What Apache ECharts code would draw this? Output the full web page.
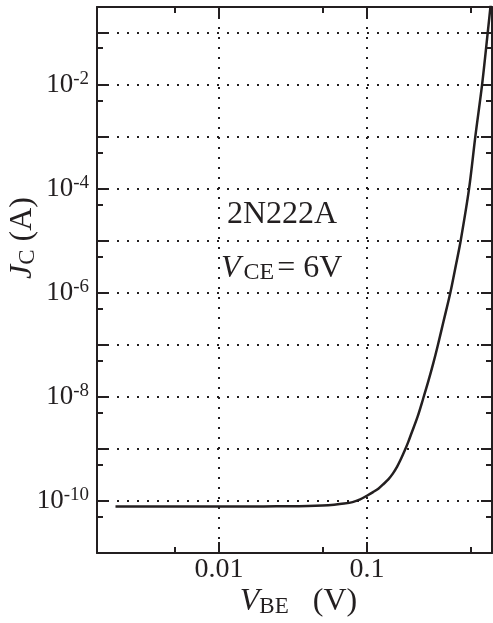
<!DOCTYPE html>
<html>
<head>
<meta charset="utf-8">
<script src="https://cdn.jsdelivr.net/npm/echarts@6/dist/echarts.min.js"></script>
<style>html,body{margin:0;padding:0;background:#fff}#c{width:493px;height:623px}</style>
</head>
<body>
<div id="c"></div>
<script>
// ---- data ----
const vbe = [0.002, 0.005, 0.01, 0.02, 0.03, 0.04, 0.05, 0.06, 0.07, 0.08, 0.09, 0.10, 0.11, 0.12, 0.13, 0.14, 0.15, 0.16, 0.17, 0.18, 0.19, 0.20, 0.22, 0.24, 0.26, 0.28, 0.30, 0.33, 0.366, 0.40, 0.43, 0.49, 0.54, 0.60, 0.655, 0.70];
const jc = [7.8e-11, 7.8e-11, 7.8e-11, 7.85e-11, 7.9e-11, 8.0e-11, 8.2e-11, 8.5e-11, 8.9e-11, 9.5e-11, 1.07e-10, 1.26e-10, 1.48e-10, 1.74e-10, 2.14e-10, 2.63e-10, 3.39e-10, 4.57e-10, 6.46e-10, 9.3e-10, 1.35e-9, 2.0e-9, 4.17e-9, 9.3e-9, 2.0e-8, 4.3e-8, 9.3e-8, 2.9e-7, 1.0e-6, 3.5e-6, 1.0e-5, 1.0e-4, 1.0e-3, 1.0e-2, 1.0e-1, 0.6];
const xMajorTicks = [0.01, 0.1];
const xMinorTicks = [0.005, 0.05, 0.5];
const xTickLabels = ['0.01', '0.1'];
const yMajorTicks = [1e-10, 1e-9, 1e-8, 1e-7, 1e-6, 1e-5, 1e-4, 1e-3, 1e-2, 1e-1];
const yMinorTicks = [5e-11, 5e-10, 5e-9, 5e-8, 5e-7, 5e-6, 5e-5, 5e-4, 5e-3, 5e-2];
const yTickLabels = [1e-10, 1e-8, 1e-6, 1e-4, 1e-2];
const xRange = [0.0015, 0.7];
const yRange = [1e-11, 0.31];
const deviceName = '2N222A';

const FONT = '"Liberation Serif", "Times New Roman", serif';
const INK = '#231f20';
const axisLineStyle = { color: INK, width: 2 };
const gridLineStyle = { color: INK, width: 2, type: [2, 8] };

function logAxis(position, range, ticks, tickLen, extra) {
  return Object.assign({
    type: 'log', logBase: 10, position: position, min: range[0], max: range[1],
    axisLine: { show: true, onZero: false, lineStyle: axisLineStyle },
    axisTick: { show: true, inside: true, length: tickLen, lineStyle: axisLineStyle, customValues: ticks },
    axisLabel: { show: false },
    splitLine: { show: false },
    minorTick: { show: false }, minorSplitLine: { show: false },
    axisPointer: { show: false }, silent: true, nameMoveOverlap: false
  }, extra || {});
}

const nameRich = {
  i: { fontFamily: FONT, fontSize: 32, fontStyle: 'italic', color: INK, lineHeight: 32 },
  s: { fontFamily: FONT, fontSize: 23, color: INK, lineHeight: 10, verticalAlign: 'bottom' },
  n: { fontFamily: FONT, fontSize: 32, color: INK, lineHeight: 32 }
};

const xMain = logAxis('bottom', xRange, xMajorTicks, 11, {
  axisLabel: {
    show: true, customValues: xMajorTicks, interval: 0, margin: 3,
    fontFamily: FONT, fontSize: 28, color: INK,
    formatter: v => { const i = xMajorTicks.findIndex(t => Math.abs(Math.log10(t) - Math.log10(v)) < 1e-6); return i >= 0 ? xTickLabels[i] : ''; }
  },
  splitLine: { show: true, lineStyle: gridLineStyle },
  name: '{i|V}{s|BE}{n|   (V)}', nameLocation: 'middle', nameGap: 33,
  nameTextStyle: { padding: [0, 0, 0, 8], rich: nameRich }
});
const yMain = logAxis('left', yRange, yMajorTicks, 11, {
  axisLabel: {
    show: true, customValues: yTickLabels, interval: 0, margin: 8,
    formatter: v => '{b|10}{s|' + Math.round(Math.log10(v)) + '}',
    rich: {
      b: { fontFamily: FONT, fontSize: 27, color: INK, lineHeight: 31 },
      s: { fontFamily: FONT, fontSize: 19, color: INK, lineHeight: 19, verticalAlign: 'top' }
    }
  },
  splitLine: { show: true, lineStyle: gridLineStyle },
  name: '{i|J}{s|C}{n| (A)}', nameLocation: 'middle', nameGap: 58, nameRotate: 90,
  nameTextStyle: { padding: [0, 0, 0, 84], rich: nameRich }
});

const option = {
  animation: false,
  backgroundColor: '#ffffff',
  grid: { left: 97, right: 1, top: 7, bottom: 70, containLabel: false, outerBoundsMode: 'none' },
  xAxis: [
    xMain,
    logAxis('top', xRange, xMajorTicks, 11),
    logAxis('bottom', xRange, xMinorTicks, 6, { axisLine: { show: false } }),
    logAxis('top', xRange, xMinorTicks, 6, { axisLine: { show: false } })
  ],
  yAxis: [
    yMain,
    logAxis('right', yRange, yMajorTicks, 11),
    logAxis('left', yRange, yMinorTicks, 6, { axisLine: { show: false } }),
    logAxis('right', yRange, yMinorTicks, 6, { axisLine: { show: false } })
  ],
  series: [{
    type: 'line', xAxisIndex: 0, yAxisIndex: 0,
    data: vbe.map((v, i) => [v, jc[i]]),
    showSymbol: false, symbol: 'none', smooth: 0.3, clip: true,
    lineStyle: { color: INK, width: 2.5, join: 'round' }, z: 5
  }],
  graphic: [
    {
      type: 'text', x: 227, y: 215, z: 10,
      style: { text: deviceName, font: '32px ' + FONT, fill: INK, align: 'left', verticalAlign: 'middle' }
    },
    {
      type: 'text', x: 221, y: 269, z: 10,
      style: {
        text: '{i|V}{s|CE}{n|= 6V}', align: 'left', verticalAlign: 'middle',
        rich: {
          i: { fontFamily: FONT, fontSize: 32, fontStyle: 'italic', fill: INK, lineHeight: 32, padding: [0, 3, 0, 0] },
          s: { fontFamily: FONT, fontSize: 24, fill: INK, lineHeight: 10, verticalAlign: 'bottom' },
          n: { fontFamily: FONT, fontSize: 32, fill: INK, lineHeight: 32, padding: [0, 0, 0, 3] }
        }
      }
    }
  ]
};
const chart = echarts.init(document.getElementById('c'), null, { renderer: 'canvas' });
chart.setOption(option);
</script>
</body>
</html>
